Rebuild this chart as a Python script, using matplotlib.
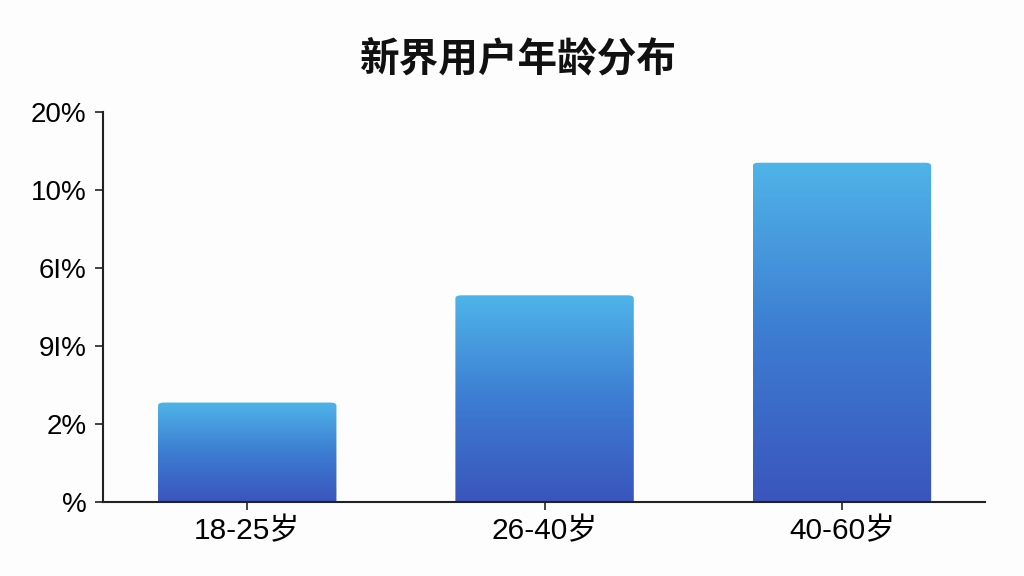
import numpy as np
import matplotlib
matplotlib.use("Agg")
import matplotlib.pyplot as plt
from matplotlib.patches import FancyBboxPatch
from matplotlib.colors import LinearSegmentedColormap

plt.rcParams['font.family'] = ['Liberation Sans', 'Noto Sans CJK SC', 'DejaVu Sans']

title = "新界用户年龄分布"
categories = ["18-25岁", "26-40岁", "40-60岁"]
values = [5.1, 10.6, 17.4]
y_ticks = [0, 4, 8, 12, 16, 20]
y_tick_labels = ["%", "2%", "9I%", "6I%", "10%", "20%"]

fig = plt.figure(figsize=(10.24, 5.76), dpi=100)
fig.patch.set_facecolor('#fdfdfd')
ax = fig.add_axes([0.1006, 0.1285, 0.861, 0.677])
ax.set_facecolor('#fdfdfd')

cmap = LinearSegmentedColormap.from_list('g', ['#3a55bc', '#3d7dd2', '#4fb4e8'])
grad = np.linspace(0, 1, 256).reshape(-1, 1)
width = 0.6
x = np.arange(len(categories))
for xi, v in zip(x, values):
    patch = FancyBboxPatch((xi - width / 2, -2), width, v + 2,
                           boxstyle="round,pad=0,rounding_size=0.02",
                           mutation_aspect=8, linewidth=0, facecolor='none',
                           transform=ax.transData)
    ax.add_patch(patch)
    im = ax.imshow(grad, extent=[xi - width / 2, xi + width / 2, 0, v],
                   origin='lower', cmap=cmap, aspect='auto', zorder=2)
    im.set_clip_path(patch)

ax.set_xlim(-0.485, 2.48)
ax.set_ylim(0, 20)
ax.set_xticks(x)
ax.set_xticklabels(categories, fontsize=21.5)
ax.set_yticks(y_ticks)
ax.set_yticklabels(y_tick_labels, fontsize=20)
ax.tick_params(axis='y', length=6, width=1.2, pad=6, color='#222222')
ax.tick_params(axis='x', length=6, width=1.2, pad=5, color='#222222')
for s in ['top', 'right']:
    ax.spines[s].set_visible(False)
for s in ['left', 'bottom']:
    ax.spines[s].set_linewidth(1.5)
    ax.spines[s].set_color('#222222')
    ax.spines[s].set_zorder(3)

fig.text(0.506, 0.897, title, ha='center', va='center', fontsize=28.5, fontweight='bold',
         color='#111111')

fig.savefig('out.png', dpi=100, facecolor=fig.get_facecolor())
